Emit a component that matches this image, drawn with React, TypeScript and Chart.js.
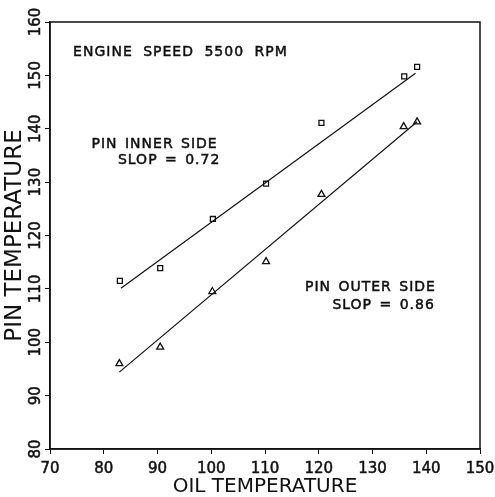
import React, { useEffect, useRef } from "react";
import { Chart, registerables } from "chart.js";

Chart.register(...registerables);

// ---- data ----
const innerOilTemp = [83.0, 90.5, 100.3, 110.2, 120.5, 135.9, 138.3];
const innerPinTemp = [111.5, 113.9, 123.1, 129.7, 141.1, 149.8, 151.6];
const outerOilTemp = [82.9, 90.5, 100.2, 110.2, 120.5, 135.8, 138.3];
const outerPinTemp = [96.0, 99.1, 109.5, 115.1, 127.7, 140.4, 141.3];

const innerFitOil = [83.2, 138.0];
const innerFitPin = [110.1, 150.4];
const outerFitOil = [82.9, 138.3];
const outerFitPin = [94.4, 141.3];

const xTickMin = 70;
const xTickMax = 150;
const yTickMin = 80;
const yTickMax = 160;
const tickStep = 10;

const xTitle = "OIL TEMPERATURE";
const yTitle = "PIN TEMPERATURE";
const headerText = "ENGINE SPEED 5500 RPM";
const innerLabel = ["PIN INNER SIDE", "SLOP = 0.72"];
const outerLabel = ["PIN OUTER SIDE", "SLOP = 0.86"];

const FONT = "'DejaVu Sans', 'Liberation Sans', sans-serif";
const INK = "#111111";

const toPts = (xs: number[], ys: number[]) => xs.map((x, i) => ({ x, y: ys[i] }));

export default function App() {
  const ref = useRef<HTMLCanvasElement>(null);

  useEffect(() => {
    const canvas = ref.current;
    if (!canvas) return;

    const decorPlugin = {
      id: "decor",
      afterDraw(chart: any) {
        const { ctx, chartArea: a, scales } = chart;
        const xs = scales.x;
        const ys = scales.y;
        ctx.save();
        // frame
        ctx.strokeStyle = INK;
        ctx.lineWidth = 1.5;
        ctx.strokeRect(a.left, a.top, a.right - a.left, a.bottom - a.top);

        // rotated y tick labels
        ctx.fillStyle = INK;
        ctx.lineWidth = 0.5;
        ctx.font = `15px ${FONT}`;
        ctx.textAlign = "center";
        ctx.textBaseline = "middle";
        ys.ticks.forEach((t: any) => {
          const py = ys.getPixelForValue(t.value);
          ctx.save();
          ctx.translate(a.left - 14, py);
          ctx.rotate(-Math.PI / 2);
          ctx.fillText(String(t.value), 0, 0);
          ctx.strokeText(String(t.value), 0, 0);
          ctx.restore();
        });

        // annotations
        const put = (txt: string, x: number, y: number) => {
          ctx.fillText(txt, x, y);
          ctx.strokeText(txt, x, y);
        };
        ctx.font = `14px ${FONT}`;
        (ctx as any).letterSpacing = "1px";
        ctx.textBaseline = "middle";
        ctx.textAlign = "left";
        (ctx as any).wordSpacing = "5px";
        put(headerText, xs.getPixelForValue(74.3), ys.getPixelForValue(154.4));
        (ctx as any).wordSpacing = "2px";
        ctx.textAlign = "right";
        put(innerLabel[0], xs.getPixelForValue(101.2), ys.getPixelForValue(137.0));
        put(innerLabel[1], xs.getPixelForValue(101.7), ys.getPixelForValue(134.1));
        put(outerLabel[0], xs.getPixelForValue(141.8), ys.getPixelForValue(110.2));
        put(outerLabel[1], xs.getPixelForValue(141.6), ys.getPixelForValue(107.0));
        ctx.restore();
      },
    };

    const chart = new Chart(canvas, {
      type: "scatter",
      data: {
        datasets: [
          {
            label: "inner fit",
            data: toPts(innerFitOil, innerFitPin),
            showLine: true,
            borderColor: INK,
            borderWidth: 1.2,
            pointRadius: 0,
          },
          {
            label: "outer fit",
            data: toPts(outerFitOil, outerFitPin),
            showLine: true,
            borderColor: INK,
            borderWidth: 1.2,
            pointRadius: 0,
          },
          {
            label: "PIN INNER SIDE",
            data: toPts(innerOilTemp, innerPinTemp),
            pointStyle: "rect",
            pointRadius: 3.5,
            borderColor: INK,
            backgroundColor: "rgba(255,255,255,0)",
            borderWidth: 1.3,
            showLine: false,
          },
          {
            label: "PIN OUTER SIDE",
            data: toPts(outerOilTemp, outerPinTemp),
            pointStyle: "triangle",
            pointRadius: 4,
            borderColor: INK,
            backgroundColor: "rgba(255,255,255,0)",
            borderWidth: 1.3,
            showLine: false,
          },
        ],
      },
      options: {
        responsive: false,
        animation: false,
        layout: { padding: { left: 4, top: 22, right: 15, bottom: 0 } },
        plugins: {
          legend: { display: false },
          tooltip: { enabled: false },
        },
        scales: {
          x: {
            type: "linear",
            min: xTickMin,
            max: xTickMax,
            afterFit: (s: any) => {
              s.height = 48;
              s.paddingLeft = 0;
              s.paddingRight = 0;
            },
            ticks: {
              stepSize: tickStep,
              color: INK,
              padding: 7.5,
              maxRotation: 0,
              textStrokeColor: INK,
              textStrokeWidth: 0.5,
              font: { family: FONT, size: 15, lineHeight: 1 },
            },
            grid: { display: true, drawOnChartArea: false, drawTicks: true, tickLength: 5, color: INK, lineWidth: 1 },
            border: { display: true, color: INK, width: 1.5 },
            title: {
              display: true,
              text: xTitle,
              color: INK,
              font: { family: FONT, size: 20, lineHeight: 1 },
              padding: { top: 0, bottom: 0 },
            },
          },
          y: {
            type: "linear",
            min: yTickMin,
            max: yTickMax,
            afterFit: (s: any) => {
              s.width = 46;
              s.paddingTop = 0;
              s.paddingBottom = 0;
            },
            ticks: { stepSize: tickStep, display: false },
            grid: { display: true, drawOnChartArea: false, drawTicks: true, tickLength: 5, color: INK, lineWidth: 1 },
            border: { display: true, color: INK, width: 1.5 },
            title: {
              display: true,
              text: yTitle,
              color: INK,
              font: { family: FONT, size: 23, lineHeight: 1 },
              padding: { top: 0, bottom: 18 },
            },
          },
        },
      },
      plugins: [decorPlugin],
    } as any);

    return () => chart.destroy();
  }, []);

  return (
    <div style={{ position: "absolute", left: 0, top: 0, width: 495, height: 497, background: "#fff" }}>
      <canvas ref={ref} width={495} height={497} style={{ display: "block" }} />
    </div>
  );
}
